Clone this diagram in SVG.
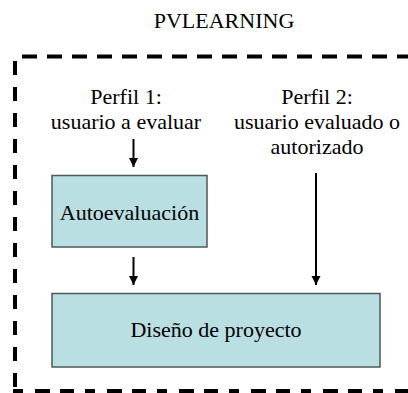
<svg xmlns="http://www.w3.org/2000/svg" width="408" height="393" viewBox="0 0 408 393">
<style>
.t{font-size:22px;fill:#000;text-anchor:middle}
.box{fill:#b9dfe2;stroke:#4e5858;stroke-width:1.5}
.frame{fill:none;stroke:#000;stroke-width:4}
.conn{stroke:#000;stroke-width:2;fill:none}
</style>
<defs>
<marker id="ah" markerWidth="10" markerHeight="10" refX="9" refY="5" orient="auto" markerUnits="userSpaceOnUse">
<path d="M0,0.5 L9,5 L0,9.5 Z" fill="#000"/>
</marker>
</defs>
<g font-family="Liberation Serif, DejaVu Serif, serif">
<text class="t" x="224" y="28">PVLEARNING</text>
<g id="frame">
<line class="frame" x1="22" y1="56.5" x2="420" y2="56.5" stroke-dasharray="15 10"/>
<line class="frame" x1="15" y1="61" x2="15" y2="393" stroke-dasharray="14 12"/>
<line class="frame" x1="13" y1="391" x2="420" y2="391" stroke-dasharray="10 12 15 10 14 11"/>
</g>
<g id="perfil1">
<text class="t" x="126" y="104">Perfil 1:</text>
<text class="t" x="126" y="129">usuario a evaluar</text>
</g>
<g id="perfil2">
<text class="t" x="317" y="104">Perfil 2:</text>
<text class="t" x="317" y="129">usuario evaluado o</text>
<text class="t" x="317" y="154">autorizado</text>
</g>
<g id="autoevaluacion">
<rect class="box" x="52" y="175.5" width="155" height="71.5"/>
<text class="t" x="129.5" y="220">Autoevaluación</text>
</g>
<g id="diseno">
<rect class="box" x="52" y="293.5" width="328" height="73.5"/>
<text class="t" x="216" y="337">Diseño de proyecto</text>
</g>
<g id="connectors">
<line class="conn" x1="133.5" y1="139" x2="133.5" y2="167" marker-end="url(#ah)"/>
<line class="conn" x1="133.5" y1="257" x2="133.5" y2="285" marker-end="url(#ah)"/>
<line class="conn" x1="316" y1="173" x2="316" y2="285" marker-end="url(#ah)"/>
</g>
</g>
</svg>
